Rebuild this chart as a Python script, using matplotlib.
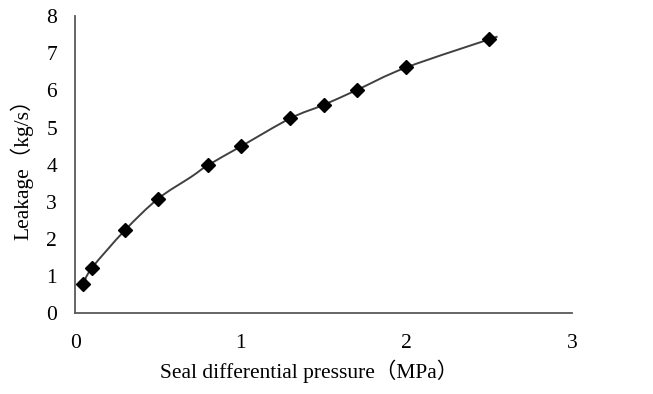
import matplotlib
matplotlib.use("Agg")
import matplotlib.pyplot as plt
from matplotlib.path import Path
from matplotlib.patches import PathPatch
import numpy as np

# measured points (markers)
pressure = [0.05, 0.1, 0.3, 0.5, 0.8, 1.0, 1.3, 1.5, 1.7, 2.0, 2.5]
leakage = [0.78, 1.21, 2.23, 3.08, 3.98, 4.49, 5.25, 5.61, 6.01, 6.62, 7.38]

# smoothed line series (drawn as a separate series, runs a bit past the last marker)
line_x = [0.05, 0.1, 0.3, 0.5, 0.7, 0.8, 1.0, 1.3, 1.5, 1.7, 2.0, 2.55]
line_y = [0.78, 1.21, 2.23, 3.08, 3.67, 3.98, 4.49, 5.25, 5.61, 6.01, 6.62, 7.45]

x_ticks = [0, 1, 2, 3]
y_ticks = [0, 1, 2, 3, 4, 5, 6, 7, 8]

SERIF = ["Liberation Serif", "Noto Sans CJK SC", "DejaVu Sans"]
FS = 15.5


def smooth_path(xs, ys, t=1 / 6):
    """Catmull-Rom style cubic Bezier path through the given points."""
    pts = np.column_stack([xs, ys]).astype(float)
    verts = [pts[0]]
    codes = [Path.MOVETO]
    n = len(pts)
    for i in range(n - 1):
        p0 = pts[i - 1] if i > 0 else pts[i]
        p1, p2 = pts[i], pts[i + 1]
        p3 = pts[i + 2] if i + 2 < n else pts[i + 1]
        verts += [p1 + (p2 - p0) * t, p2 - (p3 - p1) * t, p2]
        codes += [Path.CURVE4] * 3
    return Path(verts, codes)


fig = plt.figure(figsize=(6.53, 3.94), dpi=100)
ax = fig.add_axes([0.115, 0.205, 0.761, 0.754])

ax.add_patch(PathPatch(smooth_path(line_x, line_y), fill=False,
                       edgecolor="#404040", lw=1.4, zorder=2))
ax.plot(pressure, leakage, linestyle="none", marker="D", markersize=6.8,
        color="black", zorder=3)

ax.set_xlim(0, 3)
ax.set_ylim(0, 8)
ax.set_xticks(x_ticks)
ax.set_yticks(y_ticks)
ax.tick_params(length=0, labelsize=FS)
ax.tick_params(axis="x", pad=15)
ax.tick_params(axis="y", pad=13)
for lab in ax.get_xticklabels() + ax.get_yticklabels():
    lab.set_family(SERIF)

for s in ("top", "right"):
    ax.spines[s].set_visible(False)
for s in ("left", "bottom"):
    ax.spines[s].set_color("#595959")
    ax.spines[s].set_linewidth(1.3)

ax.set_xlabel("Seal differential pressure（MPa）", fontsize=FS, family=SERIF, labelpad=5)
ax.xaxis.label.set_x(0.47)
ax.set_ylabel("Leakage（kg/s）", fontsize=FS, family=SERIF, labelpad=9)

fig.savefig("out.png", dpi=100)
